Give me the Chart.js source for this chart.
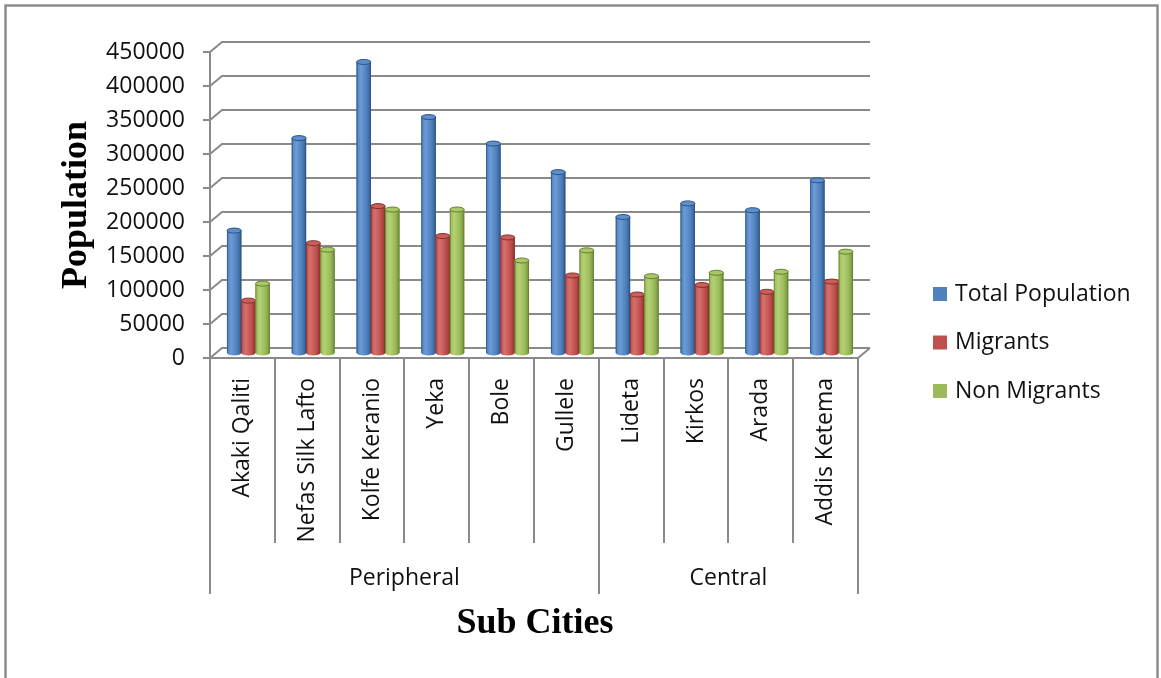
<!DOCTYPE html>
<html>
<head>
<meta charset="utf-8">
<title>Population by Sub City</title>
<script src="https://cdn.jsdelivr.net/npm/chart.js@4.4.1/dist/chart.umd.min.js"></script>
<style>
  html, body { margin: 0; padding: 0; background: #fff; overflow: hidden; }
  #wrap { width: 1161px; height: 678px; }
</style>
</head>
<body>
<div id="wrap"><canvas id="chart" width="1161" height="678"></canvas></div>
<script>
// Sub cities of Addis Ababa, grouped by zone
const subCities = ['Akaki Qaliti', 'Nefas Silk Lafto', 'Kolfe Keranio', 'Yeka', 'Bole', 'Gullele',
                   'Lideta', 'Kirkos', 'Arada', 'Addis Ketema'];
const zoneNames = ['Peripheral', 'Central'];
const zoneSizes = [6, 4];

// Population counts per sub city
const totalPopulation = [180000, 316000, 428000, 347000, 308000, 266000, 200000, 220000, 210000, 254000];
const migrants        = [77000, 161500, 216000, 172000, 170000, 114000, 86000, 100000, 90000, 105000];
const nonMigrants     = [102000, 152000, 211000, 211000, 136000, 151000, 113000, 118000, 119500, 149000];

// Value axis ticks
const populationTicks = [0, 50000, 100000, 150000, 200000, 250000, 300000, 350000, 400000, 450000];

const seriesNames = ['Total Population', 'Migrants', 'Non Migrants'];

const palette = [
  { fill: '#4f81bd', light: '#6c9bd6', dark: '#345d92', top: '#5d8fcc', rim: '#2d5283' },
  { fill: '#c0504d', light: '#d4716e', dark: '#943532', top: '#ca5e5b', rim: '#82302d' },
  { fill: '#9bbb59', light: '#b4d175', dark: '#73903a', top: '#a8c766', rim: '#657f31' }
];

const UI_FONT = '"Open Sans", "Liberation Sans", sans-serif';
const TITLE_FONT = '"Liberation Serif", "Times New Roman", serif';
const GRID = '#8a8a8a';
const DEPTH_X = 12, DEPTH_Y = 10;

// Back wall, floor, axis lines and the cylinder look of the columns
const threeD = {
  id: 'threeD',
  beforeDraw(chart) {
    const { ctx, width, height } = chart;
    ctx.save();
    ctx.fillStyle = '#fff';
    ctx.fillRect(0, 0, width, height);
    ctx.strokeStyle = '#8c8c8c';
    ctx.lineWidth = 2.5;
    ctx.strokeRect(5.5, 5.5, 1152, height + 20);
    ctx.restore();
  },
  beforeDatasetsDraw(chart) {
    const { ctx, chartArea: a, scales: { y } } = chart;
    ctx.save();
    ctx.strokeStyle = GRID;
    ctx.lineWidth = 2;
    ctx.lineJoin = 'miter';
    y.ticks.forEach(t => {
      const py = Math.round(y.getPixelForValue(t.value));
      ctx.beginPath();
      ctx.moveTo(a.left - 7, py);
      ctx.lineTo(a.left, py);
      ctx.lineTo(a.left + DEPTH_X, py - DEPTH_Y);
      ctx.lineTo(a.right + DEPTH_X, py - DEPTH_Y);
      ctx.stroke();
    });
    ctx.beginPath();
    ctx.moveTo(a.left, Math.round(y.getPixelForValue(populationTicks[populationTicks.length - 1])));
    ctx.lineTo(a.left, a.bottom);
    ctx.lineTo(a.right, a.bottom);
    ctx.lineTo(a.right + DEPTH_X, a.bottom - DEPTH_Y);
    ctx.stroke();
    ctx.restore();
    // columns stand half way into the depth of the floor
    ctx.save();
    ctx.translate(DEPTH_X / 2, -DEPTH_Y / 2);
  },
  afterDatasetsDraw(chart) {
    const { ctx } = chart;
    chart.data.datasets.forEach((ds, di) => {
      const c = palette[di];
      chart.getDatasetMeta(di).data.forEach(bar => {
        const { x, y, base, width } = bar.getProps(['x', 'y', 'base', 'width'], true);
        const l = x - width / 2, r = x + width / 2, rx = width / 2, ry = 2.5;
        const g = ctx.createLinearGradient(l, 0, r, 0);
        g.addColorStop(0, c.fill);
        g.addColorStop(0.3, c.light);
        g.addColorStop(0.7, c.fill);
        g.addColorStop(1, c.dark);
        ctx.fillStyle = g;
        ctx.beginPath();
        ctx.moveTo(l, y);
        ctx.lineTo(l, base);
        ctx.ellipse(x, base, rx, ry, 0, Math.PI, 0, true);
        ctx.lineTo(r, y);
        ctx.closePath();
        ctx.fill();
        ctx.strokeStyle = c.rim;
        ctx.lineWidth = 0.8;
        ctx.beginPath();
        ctx.moveTo(l + 0.4, y);
        ctx.lineTo(l + 0.4, base);
        ctx.moveTo(r - 0.4, y);
        ctx.lineTo(r - 0.4, base);
        ctx.stroke();
        ctx.beginPath();
        ctx.ellipse(x, y, rx, ry, 0, 0, Math.PI * 2);
        ctx.fillStyle = c.top;
        ctx.fill();
        ctx.strokeStyle = c.rim;
        ctx.lineWidth = 1;
        ctx.stroke();
      });
    });
    ctx.restore();
  },
  afterDraw(chart) {
    const { ctx, chartArea: a } = chart;
    const n = subCities.length;
    const step = a.width / n;
    ctx.save();
    // category separators; zone boundaries run further down
    ctx.strokeStyle = GRID;
    ctx.lineWidth = 2;
    const zoneEdges = [0];
    zoneSizes.forEach(s => zoneEdges.push(zoneEdges[zoneEdges.length - 1] + s));
    for (let i = 0; i <= n; i++) {
      const bx = Math.round(a.left + i * step);
      const long = zoneEdges.includes(i);
      ctx.beginPath();
      ctx.moveTo(bx, a.bottom);
      ctx.lineTo(bx, long ? 594 : 543);
      ctx.stroke();
    }
    // zone labels
    ctx.fillStyle = '#111';
    ctx.font = '23px ' + UI_FONT;
    ctx.textAlign = 'center';
    ctx.textBaseline = 'middle';
    zoneNames.forEach((name, zi) => {
      const cx = a.left + (zoneEdges[zi] + zoneEdges[zi + 1]) / 2 * step;
      ctx.fillText(name, cx, 578);
    });
    // axis titles
    ctx.fillStyle = '#000';
    ctx.font = 'bold 36px ' + TITLE_FONT;
    ctx.fillText('Sub Cities', (a.left + a.right) / 2 + 1, 624);
    ctx.save();
    ctx.translate(77, 205);
    ctx.rotate(-Math.PI / 2);
    ctx.fillText('Population', 0, 0);
    ctx.restore();
    // legend
    ctx.font = '23px ' + UI_FONT;
    ctx.textAlign = 'left';
    chart.data.datasets.forEach((ds, di) => {
      const cy = 294 + di * 48.5;
      ctx.fillStyle = palette[di].fill;
      ctx.fillRect(933, cy - 7, 14, 14);
      ctx.fillStyle = '#111';
      ctx.fillText(ds.label, 955, cy);
    });
    ctx.restore();
  }
};

new Chart(document.getElementById('chart'), {
  type: 'bar',
  data: {
    labels: subCities,
    datasets: [
      { label: seriesNames[0], data: totalPopulation, backgroundColor: palette[0].fill },
      { label: seriesNames[1], data: migrants, backgroundColor: palette[1].fill },
      { label: seriesNames[2], data: nonMigrants, backgroundColor: palette[2].fill }
    ]
  },
  options: {
    responsive: false,
    animation: false,
    devicePixelRatio: 1,
    layout: { padding: { left: 0, top: 52, right: 303, bottom: 0 } },
    datasets: { bar: { categoryPercentage: 0.66, barPercentage: 1.0 } },
    plugins: { legend: { display: false }, tooltip: { enabled: false } },
    scales: {
      x: {
        grid: { display: false, drawTicks: false },
        border: { display: false },
        ticks: {
          autoSkip: false, minRotation: 90, maxRotation: 90, padding: 20,
          color: '#111', font: { family: UI_FONT, size: 23 }
        },
        afterFit(scale) { scale.height = 320; }
      },
      y: {
        min: 0, max: 450000,
        grid: { display: false, drawTicks: false },
        border: { display: false },
        afterBuildTicks(scale) { scale.ticks = populationTicks.map(v => ({ value: v })); },
        ticks: {
          padding: 25, color: '#111', font: { family: UI_FONT, size: 23 },
          callback: v => String(v)
        },
        afterFit(scale) { scale.width = 210; }
      }
    }
  },
  plugins: [threeD]
});
</script>
</body>
</html>
